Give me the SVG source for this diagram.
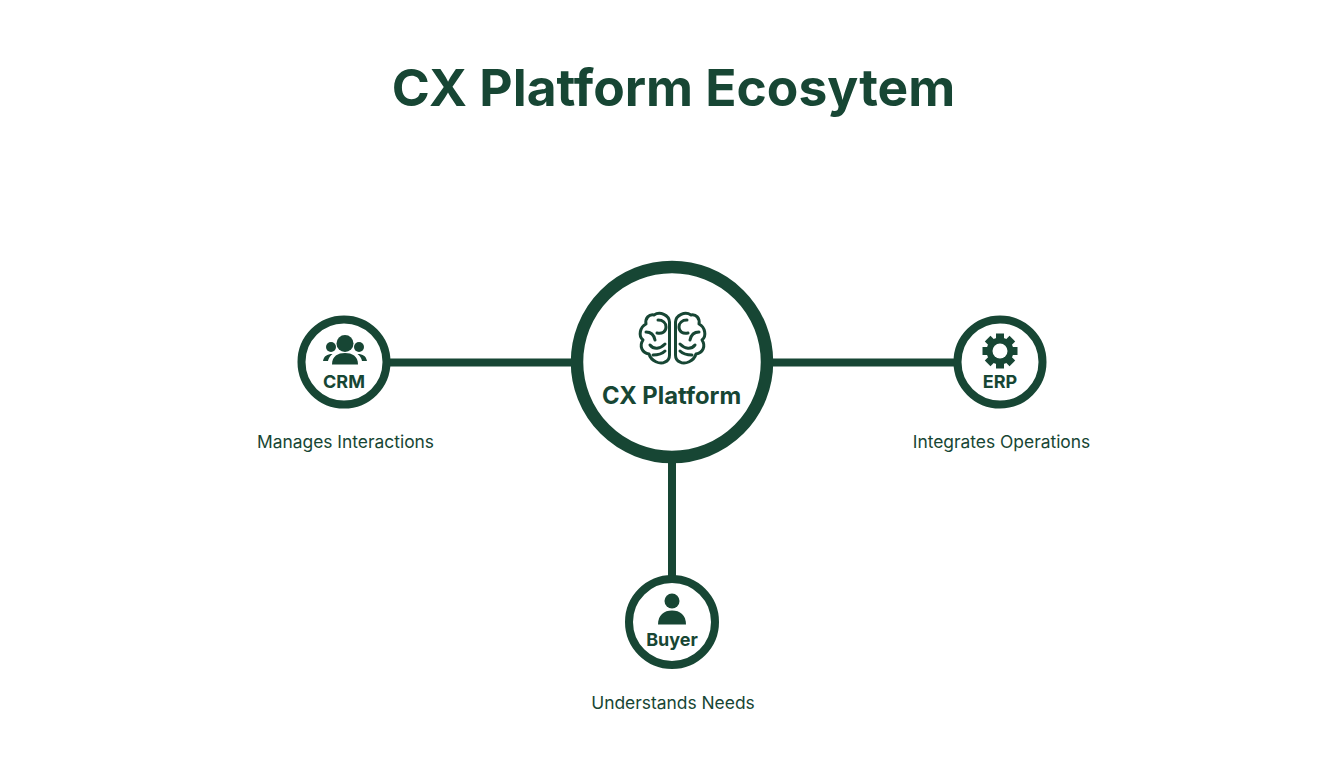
<svg xmlns="http://www.w3.org/2000/svg" xmlns:xlink="http://www.w3.org/1999/xlink" width="1344" height="768" viewBox="0 0 1344 768">
<style>
.t{font-family:Inter,"Liberation Sans",sans-serif;fill:#174634;text-anchor:middle}
.title{font-size:51.500px;font-weight:700}
.main{font-size:23.800px;font-weight:700}
.sm{font-size:18px;font-weight:700}
.cap{font-size:17.400px;font-weight:400}
.ring{fill:#fff;stroke:#174634}
.ic{fill:#174634}
.ln{fill:none;stroke:#174634;stroke-linecap:round;stroke-linejoin:round}
.conn{stroke:#174634;stroke-width:8;fill:none}
</style>
<defs>
<g id="hemi" class="ln" stroke-width="3">
<path d="M669.500 355V322C669 315 660 311 654 315C649 314 645 318 646 324C640 327 638 336 643 340C639 346 642 353 649 354C651 361 660 365 665 362C668 361 669.500 358 669.500 355Z"/>
<path d="M658 320C663 320 666 323 666 327C666 332 662 334 657 333M646 332C651 332 654 335 655 340M650 345C654 350 660 349 665 344M653 355C658 355 662 354 665 351"/>
</g>
</defs>
<rect width="1344" height="768" fill="#fff"/>
<text class="t title" x="673.500" y="106">CX Platform Ecosytem</text>
<g id="connectors">
<line class="conn" x1="388" y1="362.500" x2="574" y2="362.500"/>
<line class="conn" x1="770" y1="362.500" x2="956" y2="362.500"/>
<line class="conn" x1="672" y1="460" x2="672" y2="578"/>
</g>
<g id="cx-platform">
<circle class="ring" cx="672" cy="362" r="95" stroke-width="12.500"/>
<use xlink:href="#hemi" href="#hemi"/>
<use xlink:href="#hemi" href="#hemi" transform="translate(1345 0) scale(-1 1)"/>
<text class="t main" x="671.500" y="404">CX Platform</text>
</g>
<g id="crm">
<circle class="ring" cx="344" cy="362" r="42.500" stroke-width="8"/>
<circle class="ic" cx="345" cy="343.500" r="8.500"/>
<circle class="ic" cx="331" cy="347" r="5"/>
<circle class="ic" cx="359" cy="347" r="5"/>
<path class="ic" d="M332 364.500C332 356 338 353 345 353C352 353 358 356 358 364.500Z"/>
<path class="ic" d="M323 361C324 356 327 354 332.500 354C330 356 328.500 358 328 361Z"/>
<path class="ic" d="M367 361C366 356 363 354 357.500 354C360 356 361.500 358 362 361Z"/>
<text class="t sm" x="344" y="388">CRM</text>
</g>
<text class="t cap" x="345.500" y="447.500">Manages Interactions</text>
<g id="erp">
<circle class="ring" cx="1000" cy="362" r="42.500" stroke-width="8"/>
<g class="ic">
<circle cx="1000" cy="351" r="13.500"/>
<rect x="996" y="333.500" width="8" height="35"/>
<rect x="996" y="333.500" width="8" height="35" transform="rotate(45 1000 351)"/>
<rect x="996" y="333.500" width="8" height="35" transform="rotate(90 1000 351)"/>
<rect x="996" y="333.500" width="8" height="35" transform="rotate(135 1000 351)"/>
</g>
<circle cx="1000" cy="351" r="7.500" fill="#fff"/>
<text class="t sm" x="1000" y="388">ERP</text>
</g>
<text class="t cap" x="1001.500" y="447.500">Integrates Operations</text>
<g id="buyer">
<circle class="ring" cx="672" cy="622" r="43" stroke-width="8"/>
<circle class="ic" cx="672" cy="601" r="7.500"/>
<path class="ic" d="M658 624.500C658 615 664 610.500 672 610.500C680 610.500 686 615 686 624.500Z"/>
<text class="t sm" x="672" y="646">Buyer</text>
</g>
<text class="t cap" x="673" y="708.500">Understands Needs</text>
</svg>
